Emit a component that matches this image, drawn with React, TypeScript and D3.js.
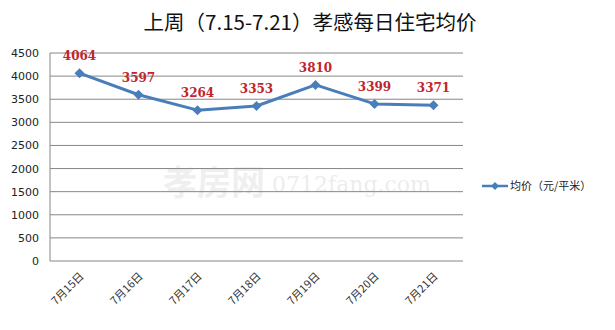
import React from "react";
import * as d3 from "d3";

const categories = ["7月15日", "7月16日", "7月17日", "7月18日", "7月19日", "7月20日", "7月21日"];
const prices = [4064, 3597, 3264, 3353, 3810, 3399, 3371];
const yTicks = [0, 500, 1000, 1500, 2000, 2500, 3000, 3500, 4000, 4500];
const title = "上周（7.15-7.21）孝感每日住宅均价";
const seriesName = "均价（元/平米）";

const W = 615, H = 330;
const left = 50, right = 463, top = 53, bottom = 261;
const lineColor = "#4A7EBB";

export default function App() {
  const x = d3.scaleBand<string>().domain(categories).range([left, right]).padding(0);
  const y = d3.scaleLinear().domain([0, 4500]).range([bottom, top]);
  const cx = (c: string) => (x(c) as number) + x.bandwidth() / 2;
  const line = d3.line<number>().x((_, i) => cx(categories[i])).y((d) => y(d));
  const diamond = (px: number, py: number, r: number) =>
    `M${px},${py - r}L${px + r},${py}L${px},${py + r}L${px - r},${py}Z`;

  return (
    <div style={{ position: "absolute", left: 0, top: 0 }}>
      <svg width={W} height={H} style={{ display: "block", background: "#fff" }}>
        <rect x={0} y={0} width={W} height={H} fill="#fff" />
        <text x={310} y={30} textAnchor="middle" fontFamily="'Noto Sans CJK SC'" fontSize={20.5} fill="#111">
          {title}
        </text>
        {/* watermark */}
        <text x={163} y={195} fontFamily="'Noto Sans CJK SC'" fontSize={34} fontWeight={700} fill="#000" opacity={0.06}>
          孝房网
        </text>
        <text x={272} y={192} fontFamily="'DejaVu Serif'" fontSize={22} fill="#000" opacity={0.07}>
          0712fang.com
        </text>
        {yTicks.map((t) => (
          <g key={t}>
            <line x1={left} x2={right} y1={y(t)} y2={y(t)} stroke="#868686" strokeWidth={1} />
            <text x={39} y={y(t) + 4} textAnchor="end" fontFamily="'DejaVu Sans'" fontSize={11} fill="#222">
              {t}
            </text>
          </g>
        ))}
        <line x1={left} x2={left} y1={top} y2={bottom} stroke="#868686" strokeWidth={1} />
        {categories.map((c) => (
          <text
            key={c}
            transform={`translate(${cx(c) + 5},${bottom + 16}) rotate(-45)`}
            textAnchor="end"
            fontFamily="'Noto Sans CJK SC'"
            fontSize={11}
            fill="#333"
          >
            {c}
          </text>
        ))}
        <path d={line(prices) as string} fill="none" stroke={lineColor} strokeWidth={3} strokeLinejoin="round" />
        {prices.map((v, i) => (
          <path key={i} d={diamond(cx(categories[i]), y(v), 5)} fill={lineColor} />
        ))}
        {prices.map((v, i) => (
          <text
            key={"l" + i}
            x={cx(categories[i])}
            y={y(v) - 13}
            textAnchor="middle"
            fontFamily="'DejaVu Serif'"
            fontWeight={700}
            fontSize={12}
            fill="#C0262C"
          >
            {v}
          </text>
        ))}
        {/* legend */}
        <line x1={482} x2={508} y1={186} y2={186} stroke={lineColor} strokeWidth={2.5} />
        <path d={diamond(495, 186, 4)} fill={lineColor} />
        <text x={510} y={190} fontFamily="'Noto Sans CJK SC'" fontSize={11} fill="#222">
          {seriesName}
        </text>
      </svg>
    </div>
  );
}
